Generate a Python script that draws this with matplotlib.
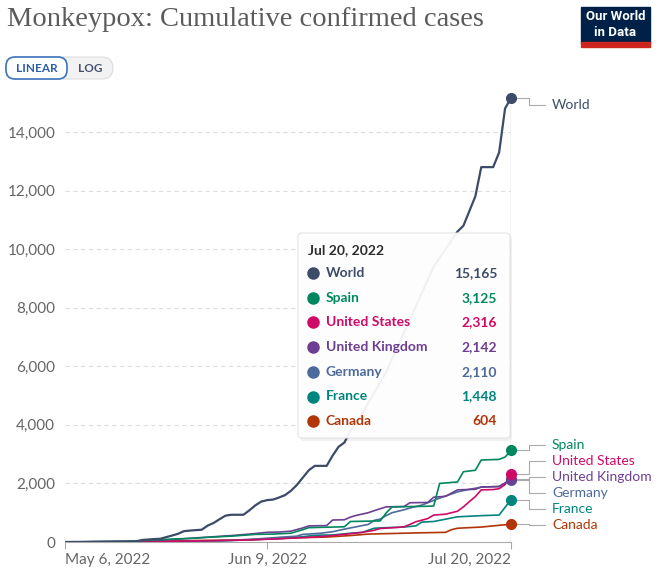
import pandas as pd
import numpy as np
import matplotlib
matplotlib.use("Agg")
import matplotlib.pyplot as plt
from matplotlib.patches import FancyBboxPatch, Rectangle
import matplotlib.transforms as mtransforms

plt.rcParams['font.family'] = ['Lato', 'DejaVu Sans']

start = pd.Timestamp("2022-05-06")
end = pd.Timestamp("2022-07-20")

# days after May 6, 2022 and cumulative confirmed cases
world_days = [0, 12, 13, 15, 16, 18, 19, 20, 21, 23, 24, 25, 26, 27, 28, 30, 31, 32, 33, 34,
              35, 36, 37, 38, 39, 40, 41, 42, 44, 45, 46, 47, 48, 50, 52, 54, 56, 58, 60, 62,
              64, 66, 67, 68, 69, 70, 72, 73, 74, 75]
world_vals = [0, 20, 70, 100, 110, 220, 280, 370, 390, 420, 560, 650, 780, 900, 930, 930, 1080, 1250, 1380, 1430,
              1450, 1520, 1600, 1750, 1950, 2200, 2450, 2600, 2600, 2950, 3250, 3400, 3800, 4400, 5100, 5800, 6700, 7600, 8500, 9400,
              10000, 10600, 10800, 11300, 11800, 12800, 12800, 13300, 14800, 15165]

spain_days = [0, 10, 14, 18, 22, 24, 28, 32, 35, 38, 40, 41, 45, 47, 48, 53, 54, 55, 61, 62, 63, 66, 67, 69, 70, 73, 74, 75]
spain_vals = [0, 20, 60, 100, 130, 160, 200, 260, 270, 300, 420, 490, 510, 520, 700, 720, 990, 1200, 1220, 1230, 2000, 2050, 2400, 2450, 2800, 2820, 2900, 3125]

us_days = [0, 14, 20, 26, 31, 36, 41, 44, 47, 50, 52, 53, 56, 57, 58, 59, 61, 62, 64, 66, 67, 68, 69, 70, 72, 73, 74, 75]
us_vals = [0, 10, 30, 50, 70, 110, 160, 200, 260, 330, 400, 460, 500, 520, 600, 690, 800, 920, 950, 1050, 1200, 1380, 1550, 1780, 1790, 1820, 1960, 2316]

uk_days = [0, 14, 18, 22, 25, 28, 31, 34, 36, 38, 40, 41, 44, 45, 47, 48, 49, 51, 52, 54, 57, 58, 61, 62, 64, 66, 69, 70, 73, 75]
uk_vals = [0, 30, 80, 140, 180, 220, 270, 330, 340, 370, 480, 550, 560, 750, 760, 850, 910, 1000, 1070, 1200, 1210, 1340, 1350, 1530, 1560, 1780, 1800, 1880, 1890, 2142]

germany_days = [0, 20, 24, 28, 32, 36, 39, 40, 43, 45, 47, 49, 51, 52, 53, 54, 55, 57, 58, 60, 62, 63, 66, 68, 70, 73, 75]
germany_vals = [0, 10, 30, 60, 100, 160, 200, 260, 300, 350, 440, 520, 600, 740, 780, 900, 1000, 1100, 1160, 1260, 1420, 1500, 1710, 1800, 1870, 1900, 2110]

france_days = [0, 16, 22, 28, 33, 37, 40, 42, 45, 48, 50, 52, 54, 57, 59, 60, 62, 64, 66, 70, 73, 75]
france_vals = [0, 5, 20, 50, 90, 130, 180, 230, 240, 300, 330, 470, 490, 510, 550, 680, 700, 780, 860, 900, 920, 1448]

canada_days = [0, 14, 18, 22, 26, 30, 35, 40, 44, 48, 51, 55, 59, 64, 65, 66, 68, 70, 73, 75]
canada_vals = [0, 5, 30, 50, 60, 70, 110, 150, 170, 220, 270, 290, 310, 330, 420, 470, 490, 510, 570, 604]

names = ["World", "Spain", "United States", "United Kingdom", "Germany", "France", "Canada"]
colors = ["#3c4b68", "#00875e", "#cf0a66", "#6d3e91", "#4c6a9c", "#00847e", "#b13507"]
series = [(world_days, world_vals), (spain_days, spain_vals), (us_days, us_vals),
          (uk_days, uk_vals), (germany_days, germany_vals), (france_days, france_vals),
          (canada_days, canada_vals)]

W, H = 659, 573
fig = plt.figure(figsize=(W / 100, H / 100), dpi=100)
ymax = 16000
ax_bottom, ax_top = 542, 73.4
ax = fig.add_axes([65 / W, (H - ax_bottom) / H, 446 / W, (ax_bottom - ax_top) / H])
ax.set_xlim(start, end)
ax.set_ylim(0, ymax)

for s in ["top", "right", "left"]:
    ax.spines[s].set_visible(False)
ax.spines["bottom"].set_color("#aaaaaa")
ax.set_yticks(range(0, 14001, 2000))
ax.set_yticklabels([f"{v:,}" for v in range(0, 14001, 2000)])
ax.yaxis.grid(True, color="#dddddd", linestyle=(0, (4, 3)), linewidth=0.8)
ax.set_axisbelow(True)
ax.tick_params(axis="y", length=0, pad=7, labelsize=11, labelcolor="#666666")
ax.set_xticks([start, pd.Timestamp("2022-06-09"), end])
ax.set_xticklabels(["May 6, 2022", "Jun 9, 2022", "Jul 20, 2022"])
ax.tick_params(axis="x", length=5, color="#aaaaaa", labelsize=11, labelcolor="#666666", pad=3)
xl = ax.get_xticklabels()
xl[0].set_ha("left")
xl[-1].set_ha("right")

# hover line
ax.plot([end, end], [0, world_vals[-1]], color="#cccccc", lw=1, zorder=1)

order = list(range(len(names)))[::-1]
for i in order:
    d, v = series[i]
    dates = start + pd.to_timedelta(d, unit="D")
    ax.plot(dates, v, color=colors[i], lw=1.6 if i == 0 else 1.2, zorder=3 + (i == 0))
    ax.plot([dates[-1]], [v[-1]], "o", color=colors[i], ms=7, clip_on=False, zorder=5)

# end labels, spread apart so they don't overlap
px_per_val = (ax_bottom - ax_top) / ymax
gap = 16 / px_per_val
finals = [s[1][-1] for s in series]
idx = sorted(range(len(finals)), key=lambda i: -finals[i])
pos = [float(finals[i]) for i in idx]
top_limit = max(finals) - 7 / px_per_val  # keep labels inside the plotted range
for _ in range(500):
    moved = False
    if pos[0] > top_limit:
        pos[0] = top_limit
    for k in range(len(pos) - 1):
        dd = pos[k] - pos[k + 1]
        if dd < gap - 1e-6:
            sh = (gap - dd) / 2
            pos[k] += sh
            pos[k + 1] -= sh
            moved = True
    if not moved:
        break
label_y = dict(zip(idx, pos))

trans = mtransforms.blended_transform_factory(ax.transAxes, ax.transData)
axw = 446
for i in range(len(names)):
    yv, yl = finals[i], label_y[i]
    x0, x1, x2 = 1 + 6 / axw, 1 + 18 / axw, 1 + 34 / axw
    ax.plot([x0, x1, x1, x2], [yv, yv, yl, yl], color="#aaaaaa", lw=0.8,
            transform=trans, clip_on=False)
    ax.text(1 + 41 / axw, yl, names[i], color=colors[i], fontsize=10,
            va="center", ha="left", transform=trans)

# overlay in pixel coordinates
ov = fig.add_axes([0, 0, 1, 1], facecolor="none")
ov.set_xlim(0, W)
ov.set_ylim(H, 0)
ov.axis("off")

ov.text(7, 20, "Monkeypox: Cumulative confirmed cases", family=["Liberation Serif", "DejaVu Serif"],
        fontsize=20.5, color="#5b5b5b", va="center", ha="left")

# logo
ov.add_patch(Rectangle((581, 7), 69, 36, color="#002147"))
ov.add_patch(Rectangle((581, 42), 69, 5, color="#ce261e"))
ov.text(615.5, 17, "Our World", color="white", fontsize=9.5, ha="center", va="center",
        family=["Liberation Sans Narrow", "Roboto"], weight="bold")
ov.text(615.5, 32, "in Data", color="white", fontsize=9.5, ha="center", va="center",
        family=["Liberation Sans Narrow", "Roboto"], weight="bold")

# linear / log toggle
ov.add_patch(FancyBboxPatch((6, 57), 107, 22, boxstyle="round,pad=0,rounding_size=11",
                            fc="#f2f2f2", ec="#dddddd", lw=0.8))
ov.add_patch(FancyBboxPatch((6, 57), 61, 22, boxstyle="round,pad=0,rounding_size=9",
                            fc="white", ec="#3b73b9", lw=1.2))
ov.text(36.5, 68.5, "LINEAR", color="#2b5da8", fontsize=8.5, weight="bold", ha="center", va="center")
ov.text(90, 68.5, "LOG", color="#44536d", fontsize=8.5, weight="bold", ha="center", va="center")

# tooltip
ov.add_patch(FancyBboxPatch((300, 236), 212, 205, boxstyle="round,pad=0,rounding_size=4",
                            fc="#000000", ec="none", alpha=0.06, zorder=9))
ov.add_patch(FancyBboxPatch((298, 233), 212, 205, boxstyle="round,pad=0,rounding_size=4",
                            fc="white", ec="#e2e2e2", lw=0.8, alpha=0.93, zorder=10))
ov.text(308, 250, "Jul 20, 2022", fontsize=10, weight="bold", color="#2d2d2d", va="center", zorder=11)
for k, i in enumerate(idx):
    yy = 273 + k * 24.7
    ov.plot([313], [yy], "o", color=colors[i], ms=8, zorder=11)
    ov.text(326, yy, names[i], fontsize=10, weight="bold", color=colors[i], va="center", zorder=11)
    ov.text(497, yy, f"{finals[i]:,}", fontsize=10, weight="bold", color=colors[i],
            va="center", ha="right", zorder=11)

fig.savefig("out.png", dpi=100)
